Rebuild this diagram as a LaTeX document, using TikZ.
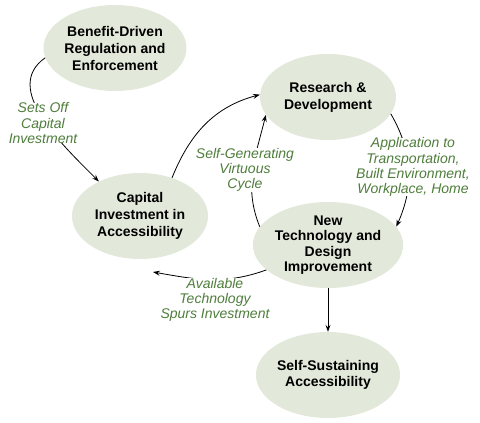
\documentclass[tikz,border=0pt]{standalone}
\usepackage{fontspec}
\setmainfont{Liberation Sans}
\usetikzlibrary{arrows.meta,shapes.geometric}
\definecolor{bubblefill}{HTML}{E2E8DA}
\definecolor{notegreen}{HTML}{4F7E3C}

\begin{document}
\begin{tikzpicture}[x=1pt, y=-1pt,
  bubble/.style={ellipse, fill=bubblefill, minimum width=136pt, minimum height=86pt,
                 inner sep=0pt, align=center, font=\fontsize{14}{17}\selectfont\bfseries},
  tight/.style={font=\fontsize{14}{15.5}\selectfont\bfseries},
  note/.style={fill=white, inner xsep=1pt, inner ysep=0pt, align=center, text=notegreen,
               font=\fontsize{14}{15.2}\selectfont\itshape},
  arr/.style={-{Stealth[length=7pt,width=5pt,inset=2.5pt]}, line width=0.8pt}]
  \useasboundingbox (0,0) rectangle (480,423);

  % the five stages
  \node[bubble] (reg) at (115,48) {Benefit-Driven\\Regulation and\\Enforcement};
  \node[bubble] (rd) at (328,97) {Research \&\\Development};
  \node[bubble] (cap) at (140,216) {Capital\\Investment in\\Accessibility};
  \node[bubble, tight] (nt) at (328,245) {New\\Technology and\\Design\\Improvement};
  \node[bubble, tight] (self) at (328,375) {Self-Sustaining\\Accessibility};
  \coordinate (spur) at (153,272);

  % connectors, labels are laid over them
  \draw[arr] (reg.188) to[out=215,in=135] (cap.140);
  \draw[arr] (cap.50) to[out=68,in=195] (rd.178);
  \draw[arr] (nt.165) to[out=112,in=256] (rd.196);
  \draw[arr] (rd.345) to[out=300,in=66] (nt.15);
  \draw[arr] (nt.202) to[out=200,in=350] (spur);
  \draw[arr] (nt) -- (self);

  \node[note] (sets) at (43,123) {Sets Off\\Capital\\Investment};
  \node[note] (cycle) at (245,170) {Self-Generating\\Virtuous\\Cycle};
  \node[note] (appl) at (413,167) {Application to\\Transportation,\\Built Environment,\\Workplace, Home};
  \node[note] (spurs) at (215,300) {Available\\Technology\\Spurs Investment};
\end{tikzpicture}
\end{document}
